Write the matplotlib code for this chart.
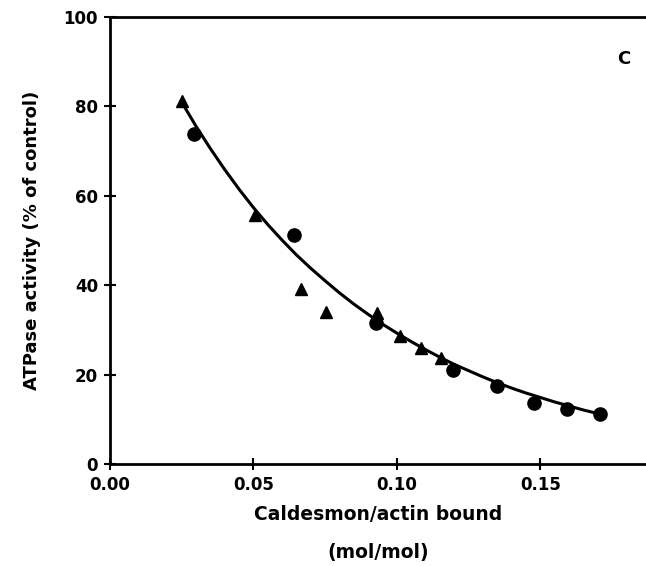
import numpy as np
from matplotlib import pyplot as plt

# triangles
tri_x = [0.0253, 0.0507, 0.0666, 0.0754, 0.0932, 0.1012, 0.1084, 0.1154]
tri_y = [81.3, 55.7, 39.2, 34.1, 33.7, 28.7, 26.0, 23.8]

# circles
circ_x = [0.0292, 0.0640, 0.0927, 0.1196, 0.1348, 0.1479, 0.1593, 0.1706]
circ_y = [73.9, 51.3, 31.6, 21.0, 17.5, 13.7, 12.3, 11.1]

# fitted curve
curve_x = [0.025, 0.030, 0.035, 0.040, 0.045, 0.050, 0.055, 0.060, 0.065,
           0.070, 0.075, 0.080, 0.085, 0.090, 0.095, 0.100, 0.105, 0.110,
           0.115, 0.120, 0.125, 0.130, 0.135, 0.140, 0.145, 0.150, 0.155,
           0.160, 0.165, 0.172]
curve_y = [81.0, 75.6, 70.6, 65.9, 61.5, 57.4, 53.6, 50.1, 46.8,
           43.8, 41.0, 38.3, 35.8, 33.5, 31.3, 29.3, 27.4, 25.6,
           23.9, 22.3, 20.9, 19.5, 18.2, 17.0, 15.9, 14.9, 13.9,
           13.0, 12.1, 11.0]

x_ticks = [0.00, 0.05, 0.10, 0.15]
x_labels = ['0.00', '0.05', '0.10', '0.15']
y_ticks = [0, 20, 40, 60, 80, 100]

plt.rcParams['font.family'] = ['DejaVu Sans']
plt.rcParams['font.weight'] = 'bold'

fig = plt.figure(figsize=(6.46, 5.66), dpi=100)
ax = fig.add_axes([0.170, 0.180, 0.830, 0.790])

ax.plot(curve_x, curve_y, c='black', lw=2.2, solid_capstyle='round',
        solid_joinstyle='round')
ax.plot(tri_x, tri_y, '^', c='black', ms=8, mec='black')
ax.plot(circ_x, circ_y, 'o', c='black', ms=9.5, mec='black')

ax.set_xlim(0, 0.1868)
ax.set_ylim(0, 100)
ax.set_xticks(x_ticks)
ax.set_xticklabels(x_labels)
ax.set_yticks(y_ticks)

for s in ['left', 'bottom', 'top']:
    ax.spines[s].set_linewidth(2.0)
ax.spines['right'].set_visible(False)

ax.tick_params(axis='both', direction='inout', length=9, width=1.5,
               labelsize=12, pad=4)

ax.text(0.179, 90.7, 'C', fontsize=13, fontweight='bold', ha='center', va='center')

ax.set_xlabel('Caldesmon/actin bound\n\n(mol/mol)', fontsize=13.5,
              fontweight='bold', linespacing=1.0, labelpad=8)
ax.set_ylabel('ATPase activity (% of control)', fontsize=13,
              fontweight='bold', labelpad=16)

plt.savefig('out.png', dpi=100)
